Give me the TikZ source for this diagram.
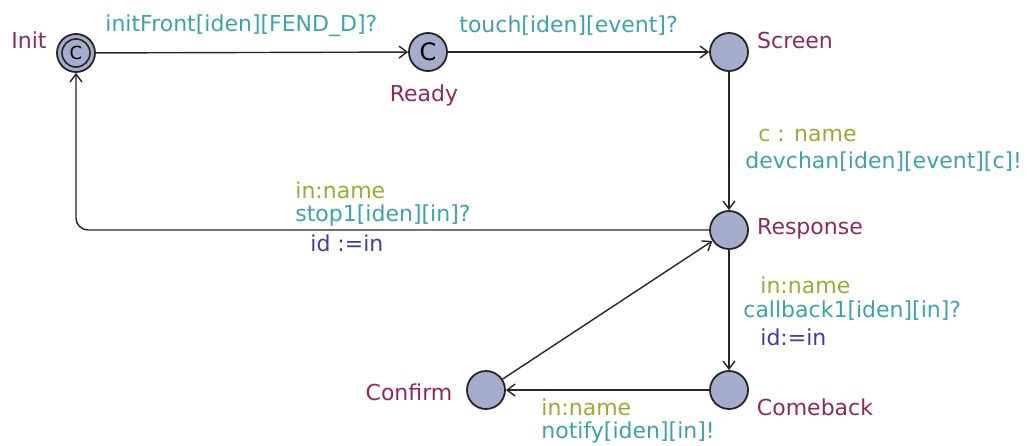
\documentclass[tikz,border=0pt]{standalone}
\usepackage{fontspec}
\setmainfont{DejaVu Sans}
\usetikzlibrary{arrows.meta,positioning}
\definecolor{locfill}{RGB}{164,174,204}
\definecolor{locname}{RGB}{140,42,95}
\definecolor{synccol}{RGB}{62,162,172}
\definecolor{selcol}{RGB}{160,168,52}
\definecolor{updcol}{RGB}{62,62,168}

\begin{document}
\begin{tikzpicture}[
  x=0.5pt, y=-0.5pt,
  every node/.style={font=\fontsize{11}{13}\selectfont},
  loc/.style={
    circle, draw=black!85, fill=locfill, line width=0.9pt,
    minimum size=19pt, inner sep=0pt
  },
  locname/.style={text=locname},
  sel/.style={text=selcol, anchor=west, inner sep=0pt},
  sync/.style={text=synccol, anchor=west, inner sep=0pt},
  upd/.style={text=updcol, anchor=west, inner sep=0pt},
  edge/.style={-{Straight Barb[length=4pt,width=6pt]}, line width=0.7pt, black!85}
]
  \useasboundingbox (0,0) rectangle (1027,445);

  % locations
  \node[loc] (init)     at (76,53)   {};
  \draw[line width=0.8pt, black!85] (init.center) circle (7pt);
  \node[font=\fontsize{9}{9}\selectfont, inner sep=0pt] (initc) at (init.center) {C};
  \node[loc, font=\fontsize{12}{12}\selectfont] (ready) at (428,52) {C};
  \node[loc] (screen)   at (729,52)  {};
  \node[loc] (response) at (729,230) {};
  \node[loc] (comeback) at (729,390) {};
  \node[loc] (confirm)  at (486,390) {};

  % names
  \node[locname] (initlbl)     at (29,40)   {Init};
  \node[locname] (readylbl)    at (424,95)  {Ready};
  \node[locname] (screenlbl)   at (795,40)  {Screen};
  \node[locname] (responselbl) at (810,229) {Response};
  \node[locname] (comebacklbl) at (815,407) {Comeback};
  \node[locname] (confirmlbl)  at (409,392) {Confirm};

  % edges
  \draw[edge] (init) -- (ready);
  \draw[edge] (ready) -- (screen);
  \draw[edge] (screen) -- (response);
  \draw[edge, rounded corners=6pt] (response) -| (init);
  \draw[edge] (response) -- (comeback);
  \draw[edge] (comeback) -- (confirm);
  \draw[edge] (confirm) -- (response);

  % guards, syncs, updates
  \node[sync] (s1) at (105,26)  {initFront[iden][FEND\_D]?};
  \node[sync] (s2) at (459,26)  {touch[iden][event]?};
  \node[sel]  (c3) at (758,135) {c : name};
  \node[sync] (s3) at (745,162) {devchan[iden][event][c]!};
  \node[sel]  (c4) at (295,190) {in:name};
  \node[sync] (s4) at (295,215) {stop1[iden][in]?};
  \node[upd]  (u4) at (310,243) {id :=in};
  \node[sel]  (c5) at (760,285) {in:name};
  \node[sync] (s5) at (743,311) {callback1[iden][in]?};
  \node[upd]  (u5) at (760,337) {id:=in};
  \node[sel]  (c6) at (541,407) {in:name};
  \node[sync] (s6) at (541,432) {notify[iden][in]!};
\end{tikzpicture}
\end{document}
